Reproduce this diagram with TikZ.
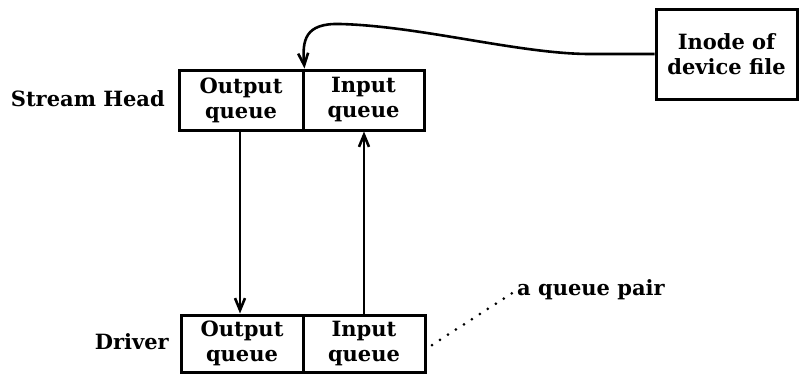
\documentclass[tikz,border=0pt]{standalone}
\usepackage{fontspec}
\setmainfont{DejaVu Serif}
\usetikzlibrary{arrows.meta}
\begin{document}
\begin{tikzpicture}[x=1pt,y=-1pt,
  cell/.style={draw,line width=3pt,minimum height=60pt,inner sep=0pt,align=center,
    font=\fontsize{21}{25}\selectfont\bfseries},
  lbl/.style={inner sep=0pt,font=\fontsize{21}{25}\selectfont\bfseries},
  tip/.style={-{Straight Barb[length=12pt,width=10pt,line width=2.6pt]}, line width=2.6pt}]
\useasboundingbox (0,0) rectangle (801,378);
\node[cell,minimum width=124pt] (ho) at (241,100) {Output\\queue};
\node[cell,minimum width=121pt] (hi) at (363.5,100) {Input\\queue};
\node[cell,minimum width=122pt,minimum height=57pt] (dout) at (242,343.5) {Output\\queue};
\node[cell,minimum width=122pt,minimum height=57pt] (din) at (364,343.5) {Input\\queue};
\node[cell,minimum width=141pt,minimum height=90pt] (inode) at (726.5,54) {Inode of\\device file};
\node[lbl,anchor=base east] (sh) at (165,106) {Stream Head};
\node[lbl,anchor=base east] (drv) at (169,349) {Driver};
\node[lbl,anchor=west] (qp) at (517,290) {a queue pair};
\coordinate (dotstart) at (432,345);
\draw[tip] (ho.south -| 240,0) -- (dout.north -| 240,0);
\draw[tip] (din.north -| 364,0) -- (hi.south -| 364,0);
\draw[tip] (inode.west) -- (590,54) .. controls (520,54) and (420,26) .. (340,24)
  .. controls (305,23) and (302,40) .. (ho.north east);
\draw[line width=3pt,line cap=round,dash pattern=on 0pt off 9.5pt] (dotstart) -- (qp.west);
\end{tikzpicture}
\end{document}
